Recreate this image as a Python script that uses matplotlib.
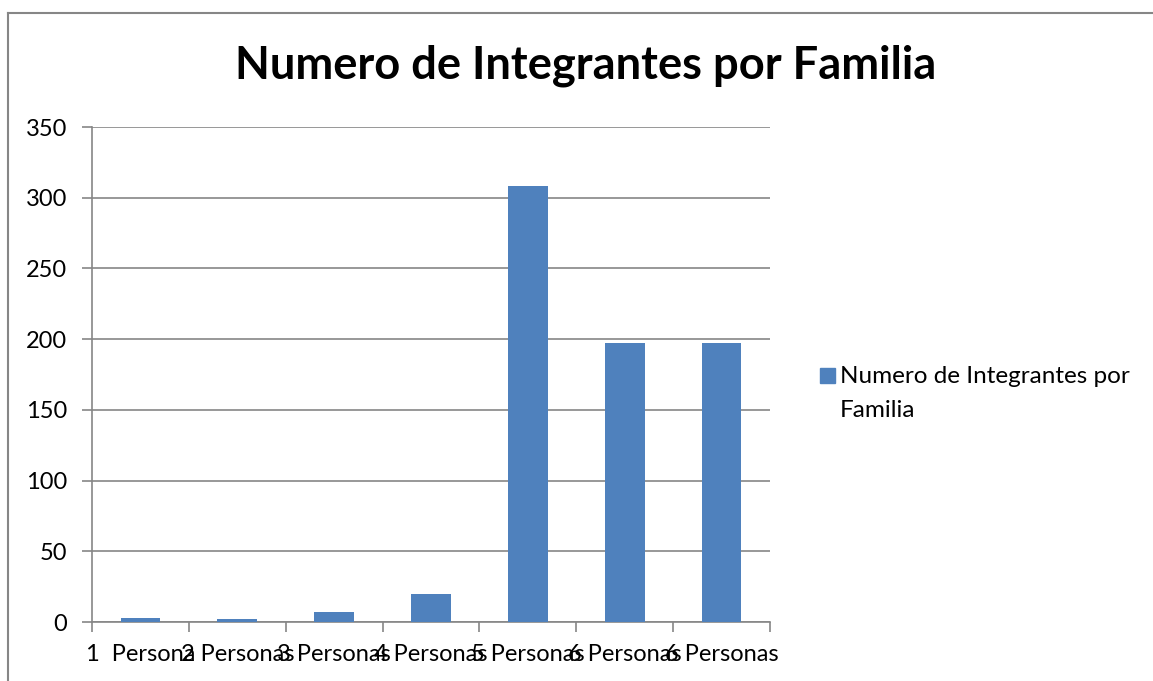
import matplotlib
matplotlib.use('Agg')
import matplotlib.pyplot as plt
from matplotlib.lines import Line2D
from matplotlib.patches import Rectangle

# data
categorias = ['1  Persona', '2 Personas', '3 Personas', '4 Personas',
              '5 Personas', '6 Personas', '6 Personas']
valores = [3, 2, 7, 20, 308, 197, 197]
serie = 'Numero de Integrantes por\nFamilia'
titulo = 'Numero de Integrantes por Familia'
yticks = [0, 50, 100, 150, 200, 250, 300, 350]

plt.rcParams['font.family'] = ['Lato', 'DejaVu Sans']
azul = '#4f81bd'
gris = '#868686'
fs = 17
W, H = 1153, 681

fig = plt.figure(figsize=(W / 100, H / 100), dpi=100)
ax = fig.add_axes([0.0798, 0.0866, 0.588, 0.7269])

x = list(range(len(valores)))
ax.bar(x, valores, width=0.41, color=azul, zorder=3)

ax.set_xlim(-0.5, len(valores) - 0.5)
ax.set_ylim(0, 350)
ax.set_yticks(yticks)
ax.yaxis.grid(True, color=gris, linewidth=1.2, zorder=0)
ax.set_axisbelow(True)

# category labels at centres, ticks at the boundaries
ax.set_xticks(x)
ax.set_xticklabels(categorias, fontsize=fs)
ax.tick_params(axis='x', length=0, pad=16)
ax.set_xticks([i - 0.5 for i in range(len(valores) + 1)], minor=True)
ax.tick_params(axis='x', which='minor', length=7, color=gris, width=1.2)
ax.tick_params(axis='y', length=7, color=gris, width=1.2, labelsize=fs, pad=11)

for s in ['top', 'right']:
    ax.spines[s].set_visible(False)
for s in ['left', 'bottom']:
    ax.spines[s].set_color(gris)
    ax.spines[s].set_linewidth(1.2)

fig.text(0.508, 0.884, titulo, ha='center', va='baseline',
         fontsize=32.6, fontweight='bold')

# legend drawn by hand: square + wrapped series name (baseline = last line)
fig.add_artist(Rectangle((820 / W, 1 - 383 / H), 15 / W, 15 / H,
                         transform=fig.transFigure, color=azul))
fig.text(840 / W, 1 - 417 / H, serie, ha='left', va='baseline',
         fontsize=17.5, linespacing=1.75)

# chart border (cut off on the right and bottom)
fig.add_artist(Line2D([0.007, 1.0], [0.981, 0.981], color=gris, lw=1.5))
fig.add_artist(Line2D([0.007, 0.007], [0.0, 0.981], color=gris, lw=1.5))

fig.savefig('out.png', dpi=100)
